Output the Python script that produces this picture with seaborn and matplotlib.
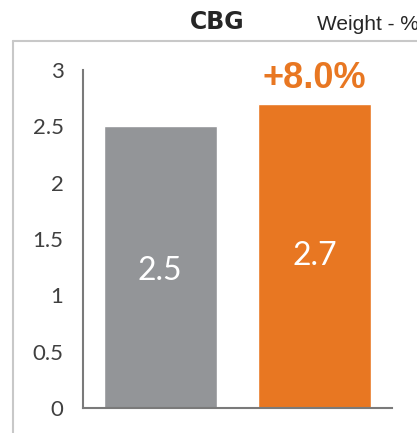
import seaborn as sns
import pandas as pd
import matplotlib.pyplot as plt
from matplotlib.lines import Line2D

# values
categories = ['Before', 'After']
weights = [2.5, 2.7]
bar_labels = ['2.5', '2.7']
change_label = '+8.0%'
y_ticks = [0, 0.5, 1, 1.5, 2, 2.5, 3]
y_tick_labels = ['0', '0.5', '1', '1.5', '2', '2.5', '3']

gray = '#939598'
orange = '#e87722'
spine_col = '#7a7a7a'

sns.set_style('white')
plt.rcParams['font.family'] = ['Lato', 'DejaVu Sans']

df = pd.DataFrame({'cat': categories, 'val': weights})

fig = plt.figure(figsize=(4.17, 4.33), dpi=100)
ax = fig.add_axes([0.199, 0.058, 0.741, 0.78])

sns.barplot(data=df, x='cat', y='val', hue='cat', palette=[gray, orange],
            width=0.73, legend=False, ax=ax, saturation=1)

ax.set_ylim(0, 3)
ax.set_xlim(-0.5, 1.5)
ax.set_yticks(y_ticks)
ax.set_yticklabels(y_tick_labels, fontsize=16, color='#404040')
ax.set_xticks([-0.5, 0.5, 1.5])
ax.set_xticklabels([])
ax.set_xlabel('')
ax.set_ylabel('')
ax.tick_params(axis='y', direction='in', length=6, width=1.5, color=spine_col, pad=14)
ax.tick_params(axis='x', direction='in', length=6, width=1.5, color=spine_col)

for s in ['top', 'right']:
    ax.spines[s].set_visible(False)
for s in ['left', 'bottom']:
    ax.spines[s].set_color(spine_col)
    ax.spines[s].set_linewidth(1.5)

# value labels inside the bars
ax.text(0, 1.22, bar_labels[0], ha='center', va='center', color='white', fontsize=23)
ax.text(1, 1.35, bar_labels[1], ha='center', va='center', color='white', fontsize=23)

# change label above the orange bar
ax.text(1, 2.93, change_label, ha='center', va='center', color=orange,
        fontsize=26, fontweight='bold', family=['Liberation Sans'], clip_on=False)

# panel frame and titles
fig.add_artist(Line2D([13/417, 13/417], [0, 1 - 41/433], color='#c8c8c8', lw=1.5))
fig.add_artist(Line2D([13/417, 1], [1 - 41/433, 1 - 41/433], color='#c8c8c8', lw=1.5))
fig.text(217/417, 1 - 22/433, 'CBG', ha='center', va='center', fontsize=17,
         fontweight='bold', family=['DejaVu Sans'])
fig.text(317/417, 1 - 24/433, 'Weight - %', ha='left', va='center', fontsize=15,
         family=['Liberation Sans'])

fig.savefig('out.png', dpi=100)
